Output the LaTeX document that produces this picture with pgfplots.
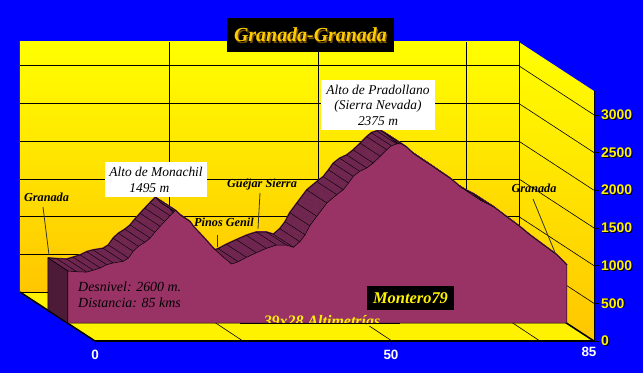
\documentclass[border=0pt]{standalone}
\usepackage{pgfplots}
\pgfplotsset{compat=1.18}
\usepackage{pgfplotstable}
\usepackage{fontspec}
\setmainfont{Liberation Serif}
\newfontfamily\sansb{Liberation Sans}
\definecolor{bgblue}{RGB}{0,0,255}
\definecolor{plum}{RGB}{153,51,102}
\definecolor{band}{RGB}{110,38,80}
\definecolor{sideface}{RGB}{77,26,56}
\definecolor{wallbot}{RGB}{255,198,0}
\definecolor{gold}{RGB}{255,204,0}
\definecolor{goldsh}{RGB}{120,80,0}

\pgfplotstableread{
km elev
0 690
1.5 680
3.2 675
4.3 700
5.5 730
6.6 773
7.7 796
9.4 818
10.3 862
11.1 951
12.0 1017
13.1 1070
14.0 1127
14.8 1203
15.7 1282
16.5 1349
17.4 1423
18.3 1495
19.3 1420
20.8 1344
21.4 1277
23.0 1145
24.8 990
26.5 871
27.9 782
29.0 813
30.4 871
32.1 932
33.8 990
35.5 1034
37.2 1034
38.4 1004
39.5 1078
40.4 1170
41.2 1290
42.4 1415
44.1 1592
45.8 1702
46.9 1768
47.8 1857
48.6 1945
49.7 2012
50.9 2056
52.0 2122
53.2 2211
54.3 2298
55.1 2350
56.0 2375
56.8 2375
57.7 2330
58.8 2250
60.5 2160
62.2 2073
63.4 2007
65.1 1919
66.8 1808
68.5 1720
70.2 1631
72.5 1540
74.7 1410
77.0 1277
78.7 1167
81.0 1034
83.3 902
85.0 769
}\prof

\begin{document}
\begin{tikzpicture}
\begin{axis}[width=643bp,height=373bp,scale only axis,hide axis,
  xmin=-11.58,xmax=97.96,ymin=-663,ymax=4284]
% background
\fill[bgblue] (rel axis cs:0,0) rectangle (rel axis cs:1,1);
% back wall
\addplot[draw=none, top color=yellow, bottom color=wallbot] coordinates {(-8.18,411) (76.82,411) (76.82,3727) (-8.18,3727)} -- cycle;
% side wall
\addplot[draw=none, top color=yellow, bottom color=wallbot] coordinates {(76.82,411) (76.82,3727) (89.6,3077) (89.6,-239)} -- cycle;
% floor
\addplot[draw=none, fill=yellow] coordinates {(-8.18,411) (76.82,411) (89.6,-239) (4.6,-239)} -- cycle;
% grid on back wall
\pgfplotsinvokeforeach{911,1411,1911,2411,2911,3411}{
  \draw[black, line width=0.8bp] (axis cs:-8.18,#1) -- (axis cs:76.82,#1);
}
\pgfplotsinvokeforeach{17.2,42.6,67.8,76.82}{
  \draw[black, line width=0.8bp] (axis cs:#1,411) -- (axis cs:#1,3727);
}
% grid on side wall
\pgfplotsinvokeforeach{500,1000,1500,2000,2500,3000}{
  \draw[black, line width=0.6bp] (axis cs:76.82,{411+#1}) -- (axis cs:89.6,{-239+#1});
}
% floor lines
\draw[black, line width=0.6bp] (axis cs:17.2,411) -- (axis cs:29.8,-239);
\draw[black, line width=0.6bp] (axis cs:42.6,411) -- (axis cs:55.2,-239);
\draw[black, line width=0.6bp] (axis cs:67.8,411) -- (axis cs:80.4,-239);
% floor edges
\draw[black, line width=0.8bp] (axis cs:-8.18,411) -- (axis cs:76.82,411);
\draw[black, line width=1.6bp] (axis cs:-8.18,411) -- (axis cs:4.6,-239);
\draw[black, line width=1.6bp] (axis cs:76.82,411) -- (axis cs:89.6,-239);
\draw[black, line width=2.2bp] (axis cs:4.6,-239) -- (axis cs:89.6,-239);
\draw[black, line width=0.8bp] (axis cs:89.6,-239) -- (axis cs:89.6,3077);
% series: top band swept between front and back faces
\pgfplotsinvokeforeach{0,0.0625,...,1}{
  \addplot[band, line width=1.8bp, line join=round] table[x expr=\thisrow{km}-3.41*#1, y expr=\thisrow{elev}+173*#1]{\prof};
}
\addplot[black, line width=0.5bp] table[x expr=\thisrow{km}-3.41, y expr=\thisrow{elev}+173]{\prof};
\addplot[black, line width=0.4bp, -, quiver={u=-3.41, v=173}] table[x=km, y=elev]{\prof};
% left side face
\addplot[fill=sideface, draw=black, line width=0.5bp] coordinates {(0,0) (0,690) (-3.41,863) (-3.41,173)} -- cycle;
% front face
\addplot[fill=plum, draw=black, line width=0.5bp] table[x=km, y=elev]{\prof} \closedcycle;
\end{axis}

\begin{scope}[shift={(current axis.south west)}, x=1bp, y=1bp]
% title
\node[fill=black, minimum width=167bp, minimum height=34bp, inner sep=0pt] at (310.5,338) {};
\node[text=goldsh, font=\fontsize{20}{21}\selectfont\bfseries\itshape] at (311.7,336.8) {Granada-Granada};
\node[text=gold, font=\fontsize{20}{21}\selectfont\bfseries\itshape] at (310.5,338) {Granada-Granada};
% boxes
\node[fill=white, minimum width=114bp, minimum height=50bp, inner sep=1pt, align=center, font=\fontsize{13.5}{15.5}\selectfont\itshape] at (378,268) {Alto de Pradollano\\(Sierra Nevada)\\2375 m};
\node[fill=white, minimum width=102bp, minimum height=35bp, inner sep=1pt, align=left, font=\fontsize{13.5}{16}\selectfont\itshape] at (156,193.5) {Alto de Monachil\\\hspace*{20bp}1495 m};
\node[anchor=west, align=left, inner sep=0pt, font=\fontsize{14}{16}\selectfont\itshape] at (78,78) {Desnivel: 2600 m.\\Distancia: 85 kms};
\node[fill=black, minimum width=87bp, minimum height=24bp, inner sep=0pt, text=yellow, font=\fontsize{16.5}{16.5}\selectfont\bfseries\itshape] at (410.5,75) {Montero79};
\node[anchor=base, text=yellow, inner sep=0pt, font=\fontsize{16}{16}\selectfont\bfseries\itshape] at (322,46.5) {39x28 Altimetrías};
\draw[black, line width=0.6bp] (240,50) -- (400,50);
% small labels with leader lines
\node[font=\fontsize{12.3}{12.3}\selectfont\bfseries\itshape] at (46.5,176) {Granada};
\draw[black!80, line width=0.8bp] (43,166) -- (49,118);
\node[font=\fontsize{12.3}{12.3}\selectfont\bfseries\itshape] at (224,151) {Pinos Genil};
\draw[black!80, line width=0.8bp] (217,138) -- (217,126);
\node[font=\fontsize{12.3}{12.3}\selectfont\bfseries\itshape] at (262,188) {Güéjar Sierra};
\draw[black!80, line width=0.8bp] (260,180) -- (258,144);
\node[font=\fontsize{12.3}{12.3}\selectfont\bfseries\itshape] at (534,185) {Granada};
\draw[black!80, line width=0.8bp] (533,174) -- (556,118);
% y tick labels
\foreach \v/\yy in {0/32,500/69.7,1000/107.4,1500/145,2000/183,2500/220.5,3000/258}{
  \draw[black, line width=0.8bp] (594,\yy) -- (599,\yy);
  \node[anchor=west, inner sep=0pt, text=black, font=\sansb\bfseries\fontsize{14}{14}\selectfont] at (601.8,\yy-0.8) {\v};
  \node[anchor=west, inner sep=0pt, text=yellow, font=\sansb\bfseries\fontsize{14}{14}\selectfont] at (601,\yy) {\v};
}
% x tick labels
\draw[black, line width=0.8bp] (95,32) -- (95,28);
\draw[black, line width=0.8bp] (391,32) -- (391,28);
\node[text=white, font=\sansb\bfseries\fontsize{13.5}{13.5}\selectfont] at (95,18) {0};
\node[text=white, font=\sansb\bfseries\fontsize{13.5}{13.5}\selectfont] at (391,18) {50};
\node[text=white, font=\sansb\bfseries\fontsize{13.5}{13.5}\selectfont] at (589,21) {85};
\end{scope}
\end{tikzpicture}
\end{document}
